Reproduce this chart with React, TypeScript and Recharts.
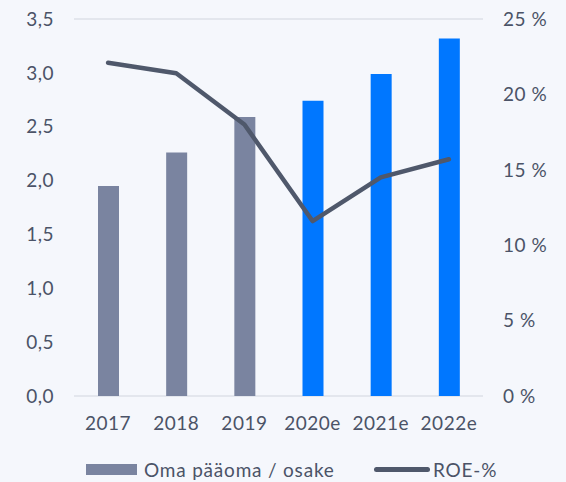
import React from 'react';
import {
  ComposedChart,
  Bar,
  Line,
  Cell,
  XAxis,
  YAxis,
  CartesianGrid,
} from 'recharts';

const years = ['2017', '2018', '2019', '2020e', '2021e', '2022e'];
const equityPerShare = [1.95, 2.26, 2.59, 2.74, 2.99, 3.32];
const roePct = [22.1, 21.4, 18.0, 11.6, 14.5, 15.7];
const isEstimate = [false, false, false, true, true, true];
const leftTicks = [0, 0.5, 1, 1.5, 2, 2.5, 3, 3.5];
const rightTicks = [0, 5, 10, 15, 20, 25];

const data = years.map((year, i) => ({
  year,
  equity: equityPerShare[i],
  roe: roePct[i],
  estimate: isEstimate[i],
}));

const FONT = 'Lato, "Open Sans", sans-serif';
const TEXT = '#4b5367';
const GRAY = '#7a84a0';
const BLUE = '#0077ff';
const LINE = '#4f586b';

const tickStyle = { fill: TEXT, fontSize: 19, fontFamily: FONT, letterSpacing: 0.5 };

export default function App() {
  return (
    <div
      style={{
        position: 'absolute',
        top: 0,
        left: 0,
        width: 566,
        height: 482,
        background: '#f5f7fc',
        overflow: 'hidden',
      }}
    >
      <ComposedChart
        width={566}
        height={482}
        data={data}
        margin={{ top: 19, right: 0, bottom: 56, left: 0 }}
        barCategoryGap={0}
      >
        <CartesianGrid vertical={false} stroke="#dde1e8" strokeWidth={1.5} />
        <XAxis
          dataKey="year"
          axisLine={false}
          tickLine={false}
          tick={tickStyle}
          tickMargin={15}
          height={30}
          interval={0}
        />
        <YAxis
          yAxisId="left"
          domain={[0, 3.5]}
          ticks={leftTicks}
          axisLine={false}
          tickLine={false}
          tick={tickStyle}
          tickMargin={14}
          width={74}
          tickFormatter={(v: number) => v.toFixed(1).replace('.', ',')}
        />
        <YAxis
          yAxisId="right"
          orientation="right"
          domain={[0, 25]}
          ticks={rightTicks}
          axisLine={false}
          tickLine={false}
          tick={{ ...tickStyle, textAnchor: 'start' }}
          tickMargin={14}
          width={83}
          tickFormatter={(v: number) => `${v} %`}
        />
        <Bar yAxisId="left" dataKey="equity" barSize={21} isAnimationActive={false}>
          {data.map((d) => (
            <Cell key={d.year} fill={d.estimate ? BLUE : GRAY} />
          ))}
        </Bar>
        <Line
          yAxisId="right"
          dataKey="roe"
          type="linear"
          stroke={LINE}
          strokeWidth={4.5}
          strokeLinecap="round"
          strokeLinejoin="round"
          dot={false}
          activeDot={false}
          isAnimationActive={false}
        />
      </ComposedChart>

      {/* legend, sits at the very bottom edge like the original */}
      <div
        style={{
          position: 'absolute',
          left: 86,
          top: 458,
          display: 'flex',
          alignItems: 'center',
          fontFamily: FONT,
          fontSize: 19,
          color: TEXT,
          whiteSpace: 'nowrap',
          lineHeight: '23px',
          letterSpacing: 0.8,
        }}
      >
        <span style={{ width: 51, height: 11, background: GRAY, marginRight: 7 }} />
        <span>Oma pääoma / osake</span>
      </div>
      <div
        style={{
          position: 'absolute',
          left: 374,
          top: 458,
          display: 'flex',
          alignItems: 'center',
          fontFamily: FONT,
          fontSize: 19,
          color: TEXT,
          whiteSpace: 'nowrap',
          lineHeight: '23px',
          letterSpacing: 0.8,
        }}
      >
        <span
          style={{ width: 56, height: 5, borderRadius: 3, background: LINE, marginRight: 3 }}
        />
        <span>ROE-%</span>
      </div>
    </div>
  );
}
